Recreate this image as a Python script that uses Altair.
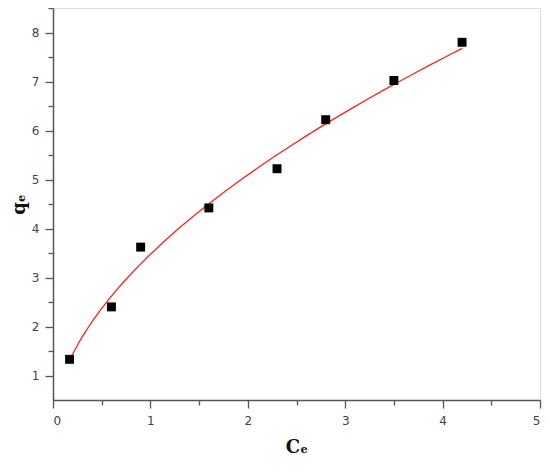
import altair as alt
import pandas as pd

ce = [0.17, 0.6, 0.9, 1.6, 2.3, 2.8, 3.5, 4.2]
qe = [1.33, 2.4, 3.62, 4.42, 5.22, 6.22, 7.02, 7.8]

x_ticks = [0, 0.5, 1, 1.5, 2, 2.5, 3, 3.5, 4, 4.5, 5]
y_ticks = [1, 1.5, 2, 2.5, 3, 3.5, 4, 4.5, 5, 5.5, 6, 6.5, 7, 7.5, 8, 8.5]

df = pd.DataFrame({"C": ce, "q": qe})

label_expr = "datum.value % 1 == 0 ? format(datum.value, 'd') : ''"
tick_size = {"condition": {"test": "datum.value % 1 == 0", "value": 8}, "value": 5}

common_axis = dict(
    grid=False,
    labelExpr=label_expr,
    tickSize=tick_size,
    labelFont="DejaVu Sans",
    labelFontSize=12,
    labelColor="#444444",
    tickColor="#555555",
    domainColor="#555555",
    domainWidth=1.5,
    tickWidth=1.3,
    titleFont="DejaVu Serif",
    titleFontWeight="bold",
    titleFontSize=18,
    titleColor="#111111",
)

x_enc = alt.X(
    "C:Q",
    scale=alt.Scale(domain=[0, 5], nice=False, zero=False),
    axis=alt.Axis(values=x_ticks, title="Cₑ", labelPadding=7, titlePadding=12, **common_axis),
)
y_enc = alt.Y(
    "q:Q",
    scale=alt.Scale(domain=[0.5, 8.5], nice=False, zero=False),
    axis=alt.Axis(values=y_ticks, title="qₑ", labelPadding=6, titlePadding=3, **common_axis),
)

base = alt.Chart(df)

curve = base.transform_regression("C", "q", method="pow").mark_line(
    color="#ff2020", strokeWidth=1.3
).encode(x=x_enc, y=y_enc)

points = base.mark_point(
    shape="square", filled=True, color="black", opacity=1, size=80
).encode(x=x_enc, y=y_enc)

chart = (
    alt.layer(curve, points)
    .properties(
        width=487,
        height=392,
        autosize=alt.AutoSizeParams(type="none"),
        padding={"left": 45, "top": 0, "right": 2, "bottom": 64},
    )
    .configure_view(stroke="#555555", strokeWidth=1.5)
    .configure(background="white")
)

chart.save("out.html", embed_options={"renderer": "svg", "actions": False})
